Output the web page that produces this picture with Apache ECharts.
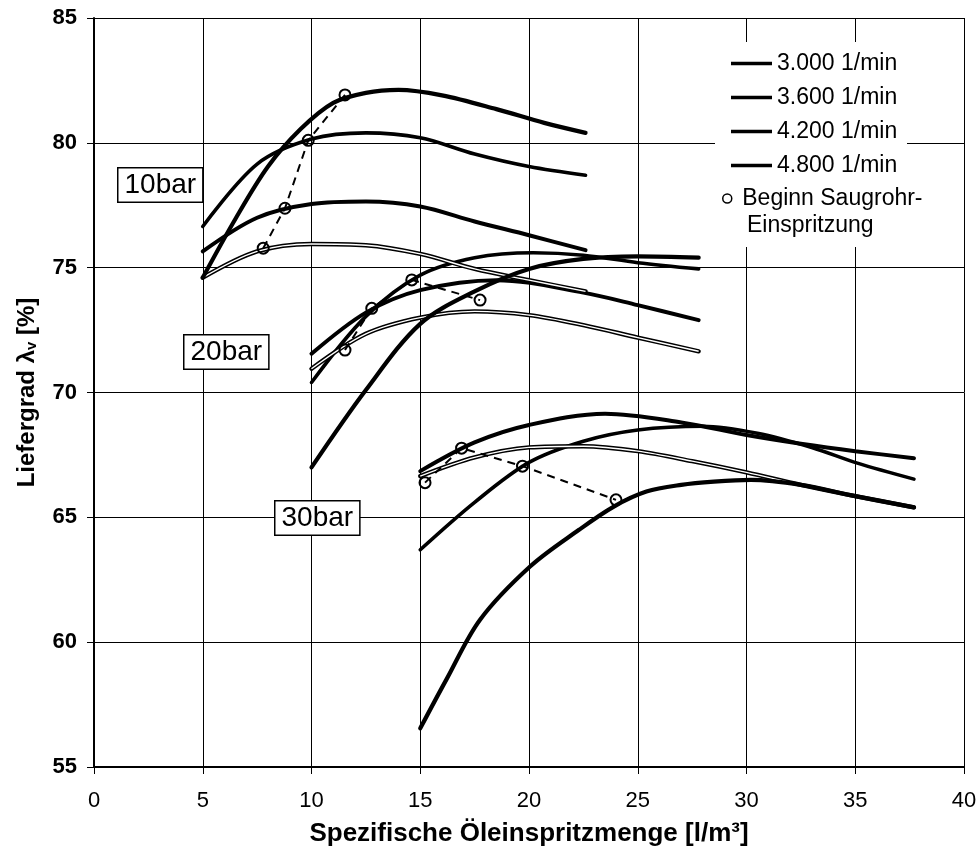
<!DOCTYPE html>
<html>
<head>
<meta charset="utf-8">
<title>Liefergrad</title>
<script src="https://cdn.jsdelivr.net/npm/echarts@6/dist/echarts.min.js"></script>
<style>
html,body{margin:0;padding:0;background:#fff;}
#chart{width:980px;height:853px;}
</style>
</head>
<body>
<div id="chart"></div>
<script>
// Liefergrad ueber spezifischer Oeleinspritzmenge, je Drehzahl 3 Kurven (10/20/30bar)
let speeds = ['3.000 1/min', '3.600 1/min', '4.200 1/min', '4.800 1/min'];
let markerName = 'Beginn Saugrohr-Einspritzung';
let groupLabels = ['10bar', '20bar', '30bar'];

// 3.000 1/min
let n3000_10 = [[5, 75.65], [7.5, 77.0], [10, 77.55], [12.5, 77.65], [15, 77.45], [17.5, 76.85], [20, 76.3], [22.6, 75.7]];
let n3000_20 = [[10, 71.55], [12.5, 73.2], [15, 74.1], [18.5, 74.5], [22.5, 74.0], [25, 73.5], [27.8, 72.9]];
let n3000_30 = [[15, 66.85], [17.5, 68.0], [20, 68.7], [23.5, 69.15], [27, 68.8], [30, 68.3], [32.5, 67.95], [35, 67.65], [37.7, 67.37]];
// 3.600 1/min
let n3600_10 = [[5, 76.65], [7.5, 79.15], [10, 80.15], [12.5, 80.4], [15, 80.2], [17.5, 79.55], [20, 79.05], [22.6, 78.7]];
let n3600_20 = [[10, 70.4], [12.5, 73.05], [15, 74.7], [17.5, 75.4], [20.2, 75.6], [22.5, 75.5], [25, 75.2], [27.8, 74.95]];
let n3600_30 = [[15, 63.7], [17.5, 65.6], [20, 67.2], [22.5, 68.05], [25, 68.5], [28, 68.65], [30.5, 68.37], [33, 67.8], [35.1, 67.17], [37.7, 66.53]];
// 4.200 1/min (Doppellinie)
let n4200_10 = [[5, 74.6], [7.5, 75.65], [10, 75.95], [12.5, 75.9], [15, 75.55], [17.5, 74.95], [20, 74.5], [22.6, 74.05]];
let n4200_20 = [[10, 70.95], [12.5, 72.35], [15, 73.0], [17.5, 73.25], [20, 73.1], [22.5, 72.7], [25, 72.2], [27.8, 71.65]];
let n4200_30 = [[15, 66.65], [17.5, 67.4], [20, 67.8], [22.5, 67.85], [25, 67.65], [27.5, 67.25], [30, 66.8], [32.5, 66.3], [35, 65.85], [37.7, 65.4]];
// 4.800 1/min
let n4800_10 = [[5, 74.6], [6.5, 76.95], [8, 79.05], [9.5, 80.55], [11, 81.6], [12.5, 82.0], [14, 82.12], [16, 81.9], [18.5, 81.35], [20.7, 80.8], [22.6, 80.4]];
let n4800_20 = [[10, 67.0], [12.5, 70.1], [15, 72.75], [17.5, 74.05], [20, 74.95], [22.5, 75.35], [25, 75.45], [27.8, 75.4]];
let n4800_30 = [[15, 56.55], [16.2, 58.5], [17.75, 60.9], [20.05, 63.03], [22.3, 64.5], [23.9, 65.43], [25.4, 66.03], [27, 66.3], [28.5, 66.43], [30.2, 66.5], [32.5, 66.3], [35, 65.85], [37.7, 65.4]];

// Beginn Saugrohr-Einspritzung
let start_10 = [[7.78, 75.78], [8.78, 77.38], [9.85, 80.1], [11.54, 81.92]];
let start_20 = [[11.54, 71.7], [12.77, 73.37], [14.61, 74.51], [17.75, 73.7]];
let start_30 = [[15.22, 66.39], [16.9, 67.77], [19.7, 67.05], [24.0, 65.7]];

let curves = [
	[n3000_10, n3000_20, n3000_30],
	[n3600_10, n3600_20, n3600_30],
	[n4200_10, n4200_20, n4200_30],
	[n4800_10, n4800_20, n4800_30]
];
let starts = [start_10, start_20, start_30];

let font = '"Liberation Sans", Arial, sans-serif';
let widths = [4, 3.6, 4.4, 4.2];
let smoothVal = 0.33;

let series = [];
for(let i = 0; i < speeds.length; i++) {
	for(let k = 0; k < curves[i].length; k++) {
		series.push({
			type: 'line',
			name: speeds[i],
			data: curves[i][k],
			smooth: smoothVal,
			symbol: 'none',
			silent: true,
			z: 2,
			itemStyle: { color: '#000' },
			lineStyle: { color: '#000', width: widths[i], cap: 'round' }
		});
		//4200 als Doppellinie: weisse Mitte drueber
		if(i == 2) {
			series.push({
				type: 'line',
				name: 'inner4200',
				data: curves[i][k],
				smooth: smoothVal,
				symbol: 'none',
				silent: true,
				z: 2,
				lineStyle: { color: '#fff', width: 1.4, cap: 'butt' }
			});
		}
	}
}
for(let k = 0; k < starts.length; k++) {
	series.push({
		type: 'line',
		name: markerName,
		data: starts[k],
		symbol: 'circle',
		symbolSize: 11,
		showSymbol: true,
		silent: true,
		z: 3,
		itemStyle: { color: 'rgba(255,255,255,0)', borderColor: '#000', borderWidth: 2 },
		lineStyle: { color: '#000', width: 2, type: [8, 6] }
	});
}

let boxStyle = function(txt) {
	return {
		text: txt,
		font: '28px ' + font,
		fill: '#000',
		backgroundColor: '#fff',
		borderColor: '#000',
		borderWidth: 1.5,
		padding: [3, 6, 2, 6]
	};
};

let option = {
	animation: false,
	backgroundColor: '#fff',
	grid: { left: 94, right: 16, top: 18, bottom: 86, outerBoundsMode: 'none' },
	xAxis: {
		type: 'value',
		min: 0, max: 40, interval: 5,
		name: 'Spezifische Öleinspritzmenge [l/m³]',
		nameLocation: 'middle',
		nameGap: 54,
		nameTextStyle: { fontFamily: font, fontSize: 26, fontWeight: 'bold', color: '#000' },
		axisLine: { lineStyle: { color: '#000', width: 2 } },
		axisTick: { show: true, length: 7, lineStyle: { color: '#000', width: 1 } },
		axisLabel: { fontFamily: font, fontSize: 22, color: '#000', margin: 23 },
		splitLine: { show: true, lineStyle: { color: '#000', width: 1 } }
	},
	yAxis: {
		type: 'value',
		min: 55, max: 85, interval: 5,
		name: '{a|Liefergrad λ}{s|v}{a| [%]}',
		nameLocation: 'middle',
		nameGap: 55,
		nameTextStyle: {
			color: '#000',
			rich: {
				a: { fontFamily: font, fontSize: 24, fontWeight: 'bold', color: '#000' },
				s: { fontFamily: font, fontSize: 15, fontWeight: 'bold', color: '#000', verticalAlign: 'bottom', padding: [9, 0, 0, 0] }
			}
		},
		axisLine: { show: true, lineStyle: { color: '#000', width: 2 } },
		axisTick: { show: true, length: 7, lineStyle: { color: '#000', width: 1 } },
		axisLabel: { fontFamily: font, fontSize: 22, fontWeight: 'bold', color: '#000', margin: 17 },
		splitLine: { show: true, lineStyle: { color: '#000', width: 1 } }
	},
	legend: [{
		data: speeds,
		orient: 'vertical',
		left: 731, top: 52,
		padding: 0,
		itemWidth: 41, itemHeight: 3.5,
		itemGap: 11,
		icon: 'rect',
		selectedMode: false,
		itemStyle: { color: '#000' },
		textStyle: { fontFamily: font, fontSize: 23, lineHeight: 23, color: '#000' }
	}, {
		data: [markerName],
		formatter: function() { return 'Beginn Saugrohr-'; },
		orient: 'vertical',
		left: 722, top: 187,
		padding: 0,
		itemWidth: 20, itemHeight: 9,
		icon: 'circle',
		selectedMode: false,
		itemStyle: { color: '#fff', borderColor: '#000', borderWidth: 1.5 },
		textStyle: { fontFamily: font, fontSize: 23, lineHeight: 23, color: '#000' }
	}],
	graphic: [
		{ type: 'rect', z: 3, shape: { x: 715, y: 42, width: 192, height: 205 }, style: { fill: '#fff' } },
		{ type: 'text', z: 5, left: 747, top: 214, style: { text: 'Einspritzung', font: '23px ' + font, fill: '#000' } },
		{ type: 'text', z: 5, left: 117, top: 167, style: boxStyle(groupLabels[0]) },
		{ type: 'text', z: 5, left: 183, top: 334, style: boxStyle(groupLabels[1]) },
		{ type: 'text', z: 5, left: 274, top: 500, style: boxStyle(groupLabels[2]) }
	],
	series: series
};

let myChart = echarts.init(document.getElementById('chart'), null, { renderer: 'canvas' });
myChart.setOption(option);
</script>
</body>
</html>
